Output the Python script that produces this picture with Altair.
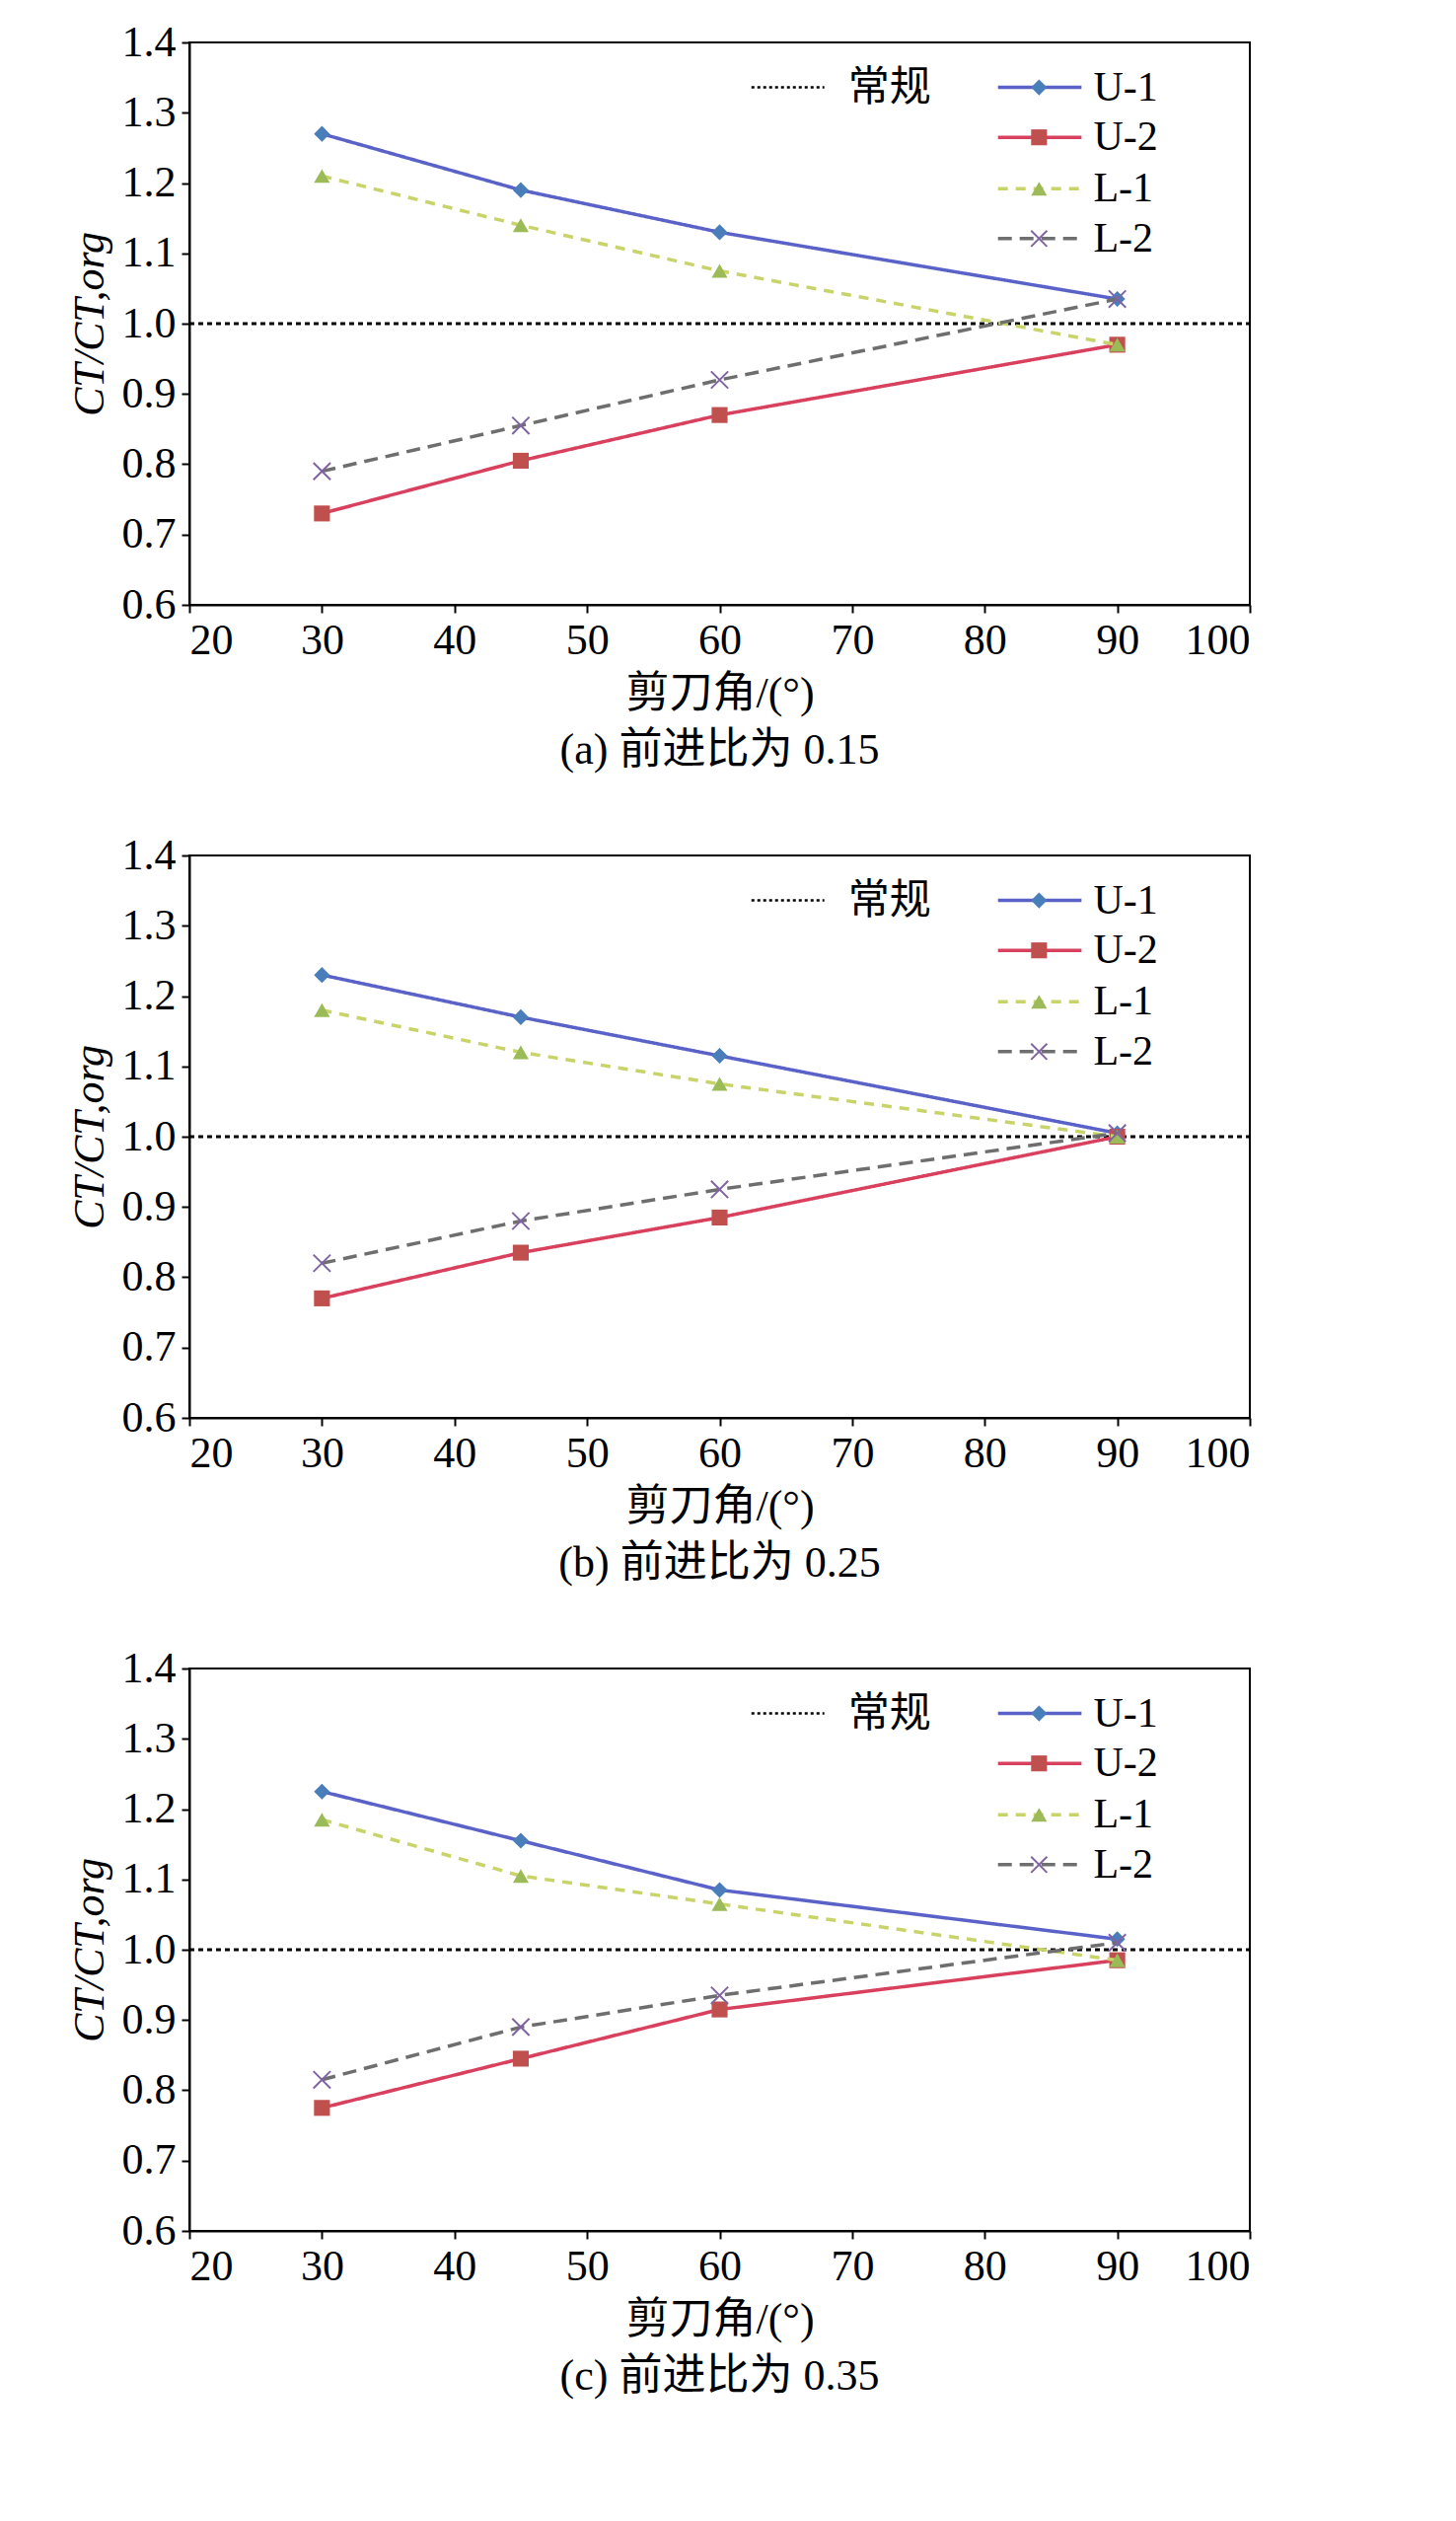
import altair as alt
import pandas as pd

angles = [30, 45, 60, 90]
series = ["U-1", "U-2", "L-1", "L-2"]
vals_a = {"U-1": [1.27, 1.19, 1.13, 1.035], "U-2": [0.73, 0.805, 0.87, 0.97],
          "L-1": [1.21, 1.14, 1.075, 0.97], "L-2": [0.79, 0.855, 0.92, 1.035]}
vals_b = {"U-1": [1.23, 1.17, 1.115, 1.005], "U-2": [0.77, 0.835, 0.885, 1.0],
          "L-1": [1.18, 1.12, 1.075, 1.0], "L-2": [0.82, 0.88, 0.925, 1.005]}
vals_c = {"U-1": [1.225, 1.155, 1.085, 1.015], "U-2": [0.775, 0.845, 0.915, 0.985],
          "L-1": [1.185, 1.105, 1.065, 0.985], "L-2": [0.815, 0.89, 0.935, 1.01]}
captions = ["(a) 前进比为 0.15", "(b) 前进比为 0.25", "(c) 前进比为 0.35"]
baseline = 1.0

line_colors = {"U-1": "#5a62c8", "U-2": "#d8405e", "L-1": "#c8d46a", "L-2": "#6e6e6e"}
mark_colors = {"U-1": "#4a7ebb", "U-2": "#c0504d", "L-1": "#9bbb59", "L-2": "#8064a2"}
dashes = {"U-1": [1, 0], "U-2": [1, 0], "L-1": [10, 8], "L-2": [14, 8]}
shapes = {"U-1": "diamond", "U-2": "square", "L-1": "triangle-up",
          "L-2": "M-1,-1L1,1M-1,1L1,-1"}
leg_y = {"U-1": 1.336, "U-2": 1.265, "L-1": 1.192, "L-2": 1.121}

FONT = "Liberation Serif, Noto Sans CJK SC"
xs = alt.Scale(domain=[20, 100], nice=False)
ys = alt.Scale(domain=[0.6, 1.4], nice=False)


def panel(vals, caption):
    layers = []
    base_df = pd.DataFrame({"x": [20, 100], "y": [baseline] * 2})
    layers.append(alt.Chart(base_df).mark_line(color="black", strokeWidth=3, strokeDash=[5, 4]).encode(
        x=alt.X("x:Q", scale=xs, title="剪刀角/(°)",
                axis=alt.Axis(values=list(range(20, 101, 10)), grid=False)),
        y=alt.Y("y:Q", scale=ys, title="CT/CT,org",
                axis=alt.Axis(values=[round(0.6 + 0.1 * i, 1) for i in range(9)], format=".1f",
                              grid=False, titleFontStyle="italic"))))
    lb = pd.DataFrame({"x": [62.4, 67.9], "y": [1.336] * 2})
    layers.append(alt.Chart(lb).mark_line(color="black", strokeWidth=2.5, strokeDash=[3, 3]).encode(
        x=alt.X("x:Q", scale=xs), y=alt.Y("y:Q", scale=ys)))
    layers.append(alt.Chart(pd.DataFrame({"x": [69.7], "y": [1.336], "t": ["常规"]})).mark_text(
        align="left", font=FONT, fontSize=42, baseline="middle").encode(
        x=alt.X("x:Q", scale=xs), y=alt.Y("y:Q", scale=ys), text="t:N"))
    for s in series:
        df = pd.DataFrame({"x": angles, "y": vals[s]})
        layers.append(alt.Chart(df).mark_line(color=line_colors[s], strokeWidth=3.5,
                                              strokeDash=dashes[s]).encode(
            x=alt.X("x:Q", scale=xs), y=alt.Y("y:Q", scale=ys)))
        filled = s != "L-2"
        pt = alt.Chart(df).mark_point(shape=shapes[s], size=260 if s != "L-2" else 300,
                                      filled=filled, color=mark_colors[s], opacity=1,
                                      strokeWidth=2)
        layers.append(pt.encode(x=alt.X("x:Q", scale=xs), y=alt.Y("y:Q", scale=ys)))
        ld = pd.DataFrame({"x": [81.0, 87.3], "y": [leg_y[s]] * 2})
        layers.append(alt.Chart(ld).mark_line(color=line_colors[s], strokeWidth=3.5,
                                              strokeDash=dashes[s]).encode(
            x=alt.X("x:Q", scale=xs), y=alt.Y("y:Q", scale=ys)))
        lp = pd.DataFrame({"x": [84.1], "y": [leg_y[s]]})
        layers.append(alt.Chart(lp).mark_point(shape=shapes[s], size=260, filled=filled,
                                               color=mark_colors[s], opacity=1, strokeWidth=2).encode(
            x=alt.X("x:Q", scale=xs), y=alt.Y("y:Q", scale=ys)))
        layers.append(alt.Chart(pd.DataFrame({"x": [88.2], "y": [leg_y[s]], "t": [s]})).mark_text(
            align="left", font=FONT, fontSize=42, baseline="middle").encode(
            x=alt.X("x:Q", scale=xs), y=alt.Y("y:Q", scale=ys), text="t:N"))
    return alt.layer(*layers).properties(
        width=1075, height=570,
        title=alt.TitleParams(caption, orient="bottom", font=FONT, fontSize=44,
                              fontWeight="normal", color="black", offset=14))


chart = alt.vconcat(panel(vals_a, captions[0]), panel(vals_b, captions[1]),
                    panel(vals_c, captions[2]), spacing=60).properties(
    background="white", padding={"left": 60, "top": 12, "right": 10, "bottom": 5}
).configure_view(stroke="black", strokeWidth=2).configure_axis(
    labelFont=FONT, titleFont=FONT, labelFontSize=44, titleFontSize=44,
    labelColor="black", titleColor="black", domainColor="black", tickColor="black",
    domainWidth=2, tickWidth=2, tickSize=8, titleFontWeight="normal", labelPadding=6,
    titlePadding=10)

chart.save("out.html", embed_options={"renderer": "svg", "actions": False})
